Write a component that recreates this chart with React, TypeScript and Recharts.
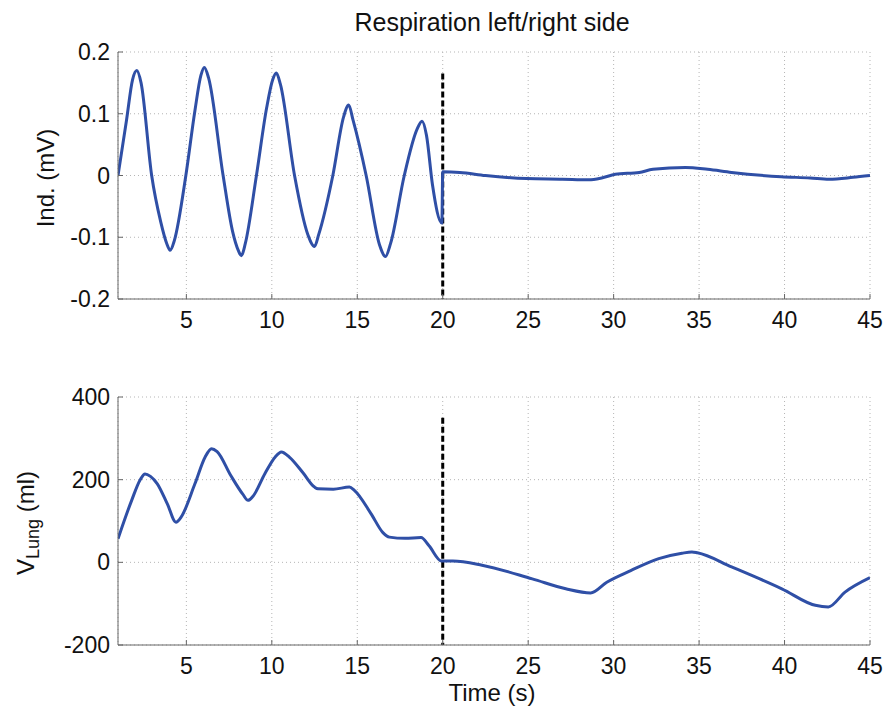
import { CartesianGrid, Line, LineChart, ReferenceLine, XAxis, YAxis } from "recharts";

const timeTicks = [5, 10, 15, 20, 25, 30, 35, 40, 45];
const indTicks = [-0.2, -0.1, 0, 0.1, 0.2];
const lungTicks = [-200, 0, 200, 400];

// top panel: inductance signal (mV)
const indTime = [
  1.0, 1.5, 1.85, 2.1, 2.35, 2.97, 3.5, 3.85, 4.05, 4.3, 4.97, 5.5, 5.85, 6.05, 6.3, 7.15, 7.7, 8.05,
  8.22, 8.45, 9.1, 9.7, 10.05, 10.26, 10.5, 11.33, 12.1, 12.5, 12.75, 13.57, 14.2, 14.5, 14.75, 15.52,
  16.3, 16.65, 16.95, 17.75, 18.5, 18.79, 19.05, 19.4, 19.95, 20.0, 21, 22.5, 24.9, 27, 28.55, 29.3,
  30.1, 31.5, 32.3, 34.2, 35.5, 36.9, 39.8, 41.5, 42.6, 44, 45,
];
const indValues = [
  0.0, 0.09, 0.155, 0.17, 0.15, 0.0, -0.075, -0.11, -0.121, -0.105, 0.0, 0.105, 0.162, 0.175, 0.158,
  0.0, -0.09, -0.122, -0.13, -0.11, 0.0, 0.11, 0.155, 0.166, 0.148, 0.0, -0.095, -0.115, -0.095, 0.0,
  0.095, 0.114, 0.09, 0.0, -0.112, -0.131, -0.11, 0.0, 0.075, 0.088, 0.065, -0.015, -0.077, 0.006,
  0.005, 0.0, -0.005, -0.006, -0.007, -0.004, 0.002, 0.005, 0.01, 0.013, 0.01, 0.005, -0.002, -0.004,
  -0.006, -0.003, 0.0,
];

// bottom panel: lung volume (ml)
const lungTime = [
  1.0, 1.8, 2.3, 2.58, 2.9, 3.3, 3.9, 4.39, 4.7, 5.5, 6.1, 6.47, 6.8, 7.6, 8.3, 8.61, 8.9, 9.6, 10.2,
  10.56, 11.04, 11.8, 12.5, 12.7, 13.6, 14.54, 14.83, 15.8, 16.5, 16.88, 17.8, 18.73, 19.2, 19.93,
  20.6, 22.3, 25.24, 27.2, 28.65, 29.6, 31, 32.64, 34.0, 34.58, 34.9, 36.9, 39.84, 41.8, 42.56, 43.54,
  45,
];
const lungValues = [
  57, 150, 200, 214, 208, 190, 140, 97, 110, 190, 255, 275, 268, 210, 165, 150, 160, 215, 255, 267, 254,
  218, 182, 178, 177, 182, 174, 118, 72, 61, 58, 60, 40, 3, 3, -7, -40, -64, -74, -48, -20, 9, 22, 25,
  23, -11, -64, -104, -108, -72, -37,
];

const indData = indTime.map((t, i) => ({ t, v: indValues[i] }));
const lungData = lungTime.map((t, i) => ({ t, v: lungValues[i] }));

const FONT = "'Liberation Sans', Arial, sans-serif";
const BLUE = "#2f4fa6";
const AXIS = "#666";
const tickStyle = { fill: "#111", fontSize: 23, fontFamily: FONT };

function Panel({
  data,
  ticks,
  domain,
  top,
  bottom,
  marker,
}: {
  data: { t: number; v: number }[];
  ticks: number[];
  domain: [number, number];
  top: number;
  bottom: number;
  marker: [number, number];
}) {
  return (
    <LineChart width={885} height={354} data={data} margin={{ top, right: 15, bottom, left: 58 }}>
      <CartesianGrid stroke="#b5b5b5" strokeDasharray="1 3" />
      <XAxis
        dataKey="t"
        type="number"
        domain={[1, 45]}
        ticks={timeTicks}
        allowDataOverflow
        height={30}
        tick={tickStyle}
        tickSize={-5}
        tickMargin={18}
        tickLine={{ stroke: AXIS }}
        axisLine={{ stroke: AXIS }}
      />
      <XAxis
        xAxisId="top"
        orientation="top"
        type="number"
        domain={[1, 45]}
        ticks={timeTicks}
        allowDataOverflow
        height={0}
        tickSize={-5}
        tickFormatter={() => ""}
        tickLine={{ stroke: AXIS }}
        axisLine={{ stroke: AXIS }}
      />
      <YAxis
        type="number"
        domain={domain}
        ticks={ticks}
        allowDataOverflow
        width={60}
        tick={tickStyle}
        tickSize={-5}
        tickMargin={13}
        tickLine={{ stroke: AXIS }}
        axisLine={{ stroke: AXIS }}
      />
      <YAxis
        yAxisId="right"
        orientation="right"
        type="number"
        domain={domain}
        ticks={ticks}
        allowDataOverflow
        width={0}
        tickSize={-5}
        tickFormatter={() => ""}
        tickLine={{ stroke: AXIS }}
        axisLine={{ stroke: AXIS }}
      />
      <ReferenceLine
        segment={[
          { x: 20, y: marker[0] },
          { x: 20, y: marker[1] },
        ]}
        stroke="#000"
        strokeWidth={3}
        strokeDasharray="6 3"
      />
      <Line
        dataKey="v"
        type="monotone"
        stroke={BLUE}
        strokeWidth={3}
        dot={false}
        isAnimationActive={false}
      />
    </LineChart>
  );
}

export default function App() {
  const label: React.CSSProperties = {
    position: "absolute",
    fontFamily: FONT,
    fontSize: 24,
    color: "#111",
    whiteSpace: "nowrap",
    lineHeight: 1,
  };
  return (
    <div style={{ position: "fixed", left: 0, top: 0, width: 885, height: 708, background: "#fff" }}>
      <div style={{ position: "absolute", left: 0, top: 0 }}>
        <Panel data={indData} ticks={indTicks} domain={[-0.2, 0.2]} top={52} bottom={25} marker={[0.165, -0.2]} />
      </div>
      <div style={{ position: "absolute", left: 0, top: 354 }}>
        <Panel data={lungData} ticks={lungTicks} domain={[-200, 400]} top={43} bottom={33} marker={[350, -200]} />
      </div>
      <div style={{ ...label, fontSize: 25, left: 492, top: 10, transform: "translateX(-50%)" }}>
        Respiration left/right side
      </div>
      <div style={{ ...label, left: 492, top: 681, transform: "translateX(-50%)" }}>Time (s)</div>
      <div
        style={{ ...label, left: 46, top: 178, transform: "translate(-50%, -50%) rotate(-90deg)" }}
      >
        Ind. (mV)
      </div>
      <div
        style={{ ...label, left: 28, top: 523, transform: "translate(-50%, -50%) rotate(-90deg)" }}
      >
        V<sub style={{ fontSize: 18 }}>Lung</sub> (ml)
      </div>
    </div>
  );
}
